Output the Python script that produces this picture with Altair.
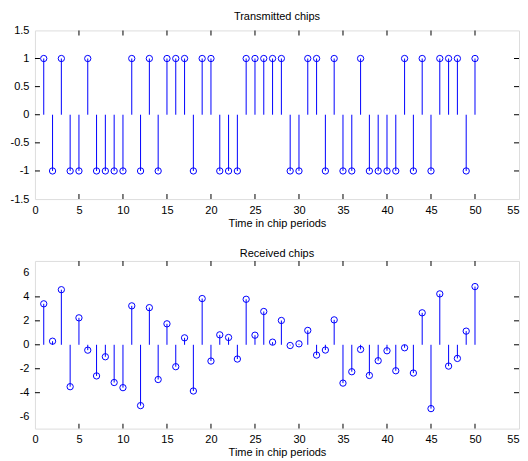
import altair as alt
import pandas as pd

chips = list(range(1, 51))
transmitted = [1, -1, 1, -1, -1, 1, -1, -1, -1, -1,
               1, -1, 1, -1, 1, 1, 1, -1, 1, 1,
               -1, -1, -1, 1, 1, 1, 1, 1, -1, -1,
               1, 1, -1, 1, -1, -1, 1, -1, -1, -1,
               -1, 1, -1, 1, -1, 1, 1, 1, -1, 1]
received = [3.42, 0.3, 4.6, -3.5, 2.25, -0.45, -2.6, -1.0, -3.15, -3.58,
            3.25, -5.08, 3.1, -2.9, 1.75, -1.83, 0.58, -3.86, 3.86, -1.36,
            0.83, 0.61, -1.19, 3.8, 0.8, 2.78, 0.22, 2.03, -0.06, 0.08,
            1.2, -0.86, -0.44, 2.08, -3.2, -2.25, -0.39, -2.56, -1.33, -0.5,
            -2.17, -0.25, -2.36, 2.67, -5.33, 4.25, -1.78, -1.14, 1.14, 4.86]

x_ticks = [0, 5, 10, 15, 20, 25, 30, 35, 40, 45, 50, 55]
y_ticks_top = [-1.5, -1, -0.5, 0, 0.5, 1, 1.5]
y_ticks_bot = [-6, -4, -2, 0, 2, 4, 6]

FONT = "Liberation Sans"
BLUE = "#0000ff"
W = 485
TICK = 5


def stem_panel(values, title, ydom, yticks, h):
    df = pd.DataFrame({"n": chips, "v": values})
    xs = alt.Scale(domain=[0, 55], nice=False, zero=False)
    ys = alt.Scale(domain=ydom, nice=False, zero=False)
    xax = alt.Axis(values=x_ticks, title="Time in chip periods", tickSize=0,
                   labelPadding=5, titlePadding=2, grid=False, domain=False,
                   labelOverlap=False, labelFont=FONT, labelFontSize=11,
                   labelExpr="'' + datum.value",
                   labelAlign={"condition": {"test": "datum.value == 55", "value": "right"},
                               "value": "center"},
                   titleFont=FONT, titleFontSize=11, titleFontWeight="normal",
                   labelColor="black", titleColor="black")
    yax = alt.Axis(values=yticks, title=None, tickSize=0, labelPadding=6,
                   grid=False, domain=False, minExtent=26, maxExtent=26,
                   labelOverlap=False, labelFont=FONT, labelFontSize=11,
                   labelExpr="'' + datum.value", labelColor="black")
    base = alt.Chart(df)
    stems = base.mark_rule(color=BLUE, strokeWidth=1).encode(
        x=alt.X("n:Q", scale=xs, axis=xax),
        y=alt.Y("v:Q", scale=ys, axis=yax),
        y2=alt.datum(0),
    )
    pts = base.mark_point(shape="circle", filled=False, color=BLUE, size=40,
                          strokeWidth=1, opacity=1).encode(
        x=alt.X("n:Q", scale=xs, axis=xax),
        y=alt.Y("v:Q", scale=ys, axis=yax),
    )
    xt = pd.DataFrame({"t": x_ticks[1:-1]})
    yt = pd.DataFrame({"t": yticks[1:-1]})
    ticks = []
    for yy, off in ((ydom[0], -TICK / 2), (ydom[1], TICK / 2)):
        ticks.append(alt.Chart(xt).mark_tick(orient="vertical", size=TICK, thickness=1,
                                             color="black", opacity=1).encode(
            x=alt.X("t:Q", scale=xs, axis=xax),
            y=alt.YDatum(yy, scale=ys, axis=yax),
            yOffset=alt.value(off)))
    for xx, off in ((0, TICK / 2), (55, -TICK / 2)):
        ticks.append(alt.Chart(yt).mark_tick(orient="horizontal", size=TICK, thickness=1,
                                             color="black", opacity=1).encode(
            y=alt.Y("t:Q", scale=ys, axis=yax),
            x=alt.XDatum(xx, scale=xs, axis=xax),
            xOffset=alt.value(off)))
    return alt.layer(stems, pts, *ticks).properties(
        width=W, height=h,
        title=alt.Title(title, fontSize=11, fontWeight="normal", font=FONT,
                        color="black", offset=2, frame="group"),
    )


top = stem_panel(transmitted, "Transmitted chips", [-1.5, 1.5], y_ticks_top, 169)
bot = stem_panel(received, "Received chips", [-7, 7], y_ticks_bot, 168)

chart = alt.vconcat(top, bot, spacing=18).properties(
    padding={"left": 0, "top": 2, "right": 0, "bottom": 0}
).configure_view(stroke="black", strokeWidth=1).configure(background="white")

chart.save("out.html", embed_options={"renderer": "svg", "actions": False})
